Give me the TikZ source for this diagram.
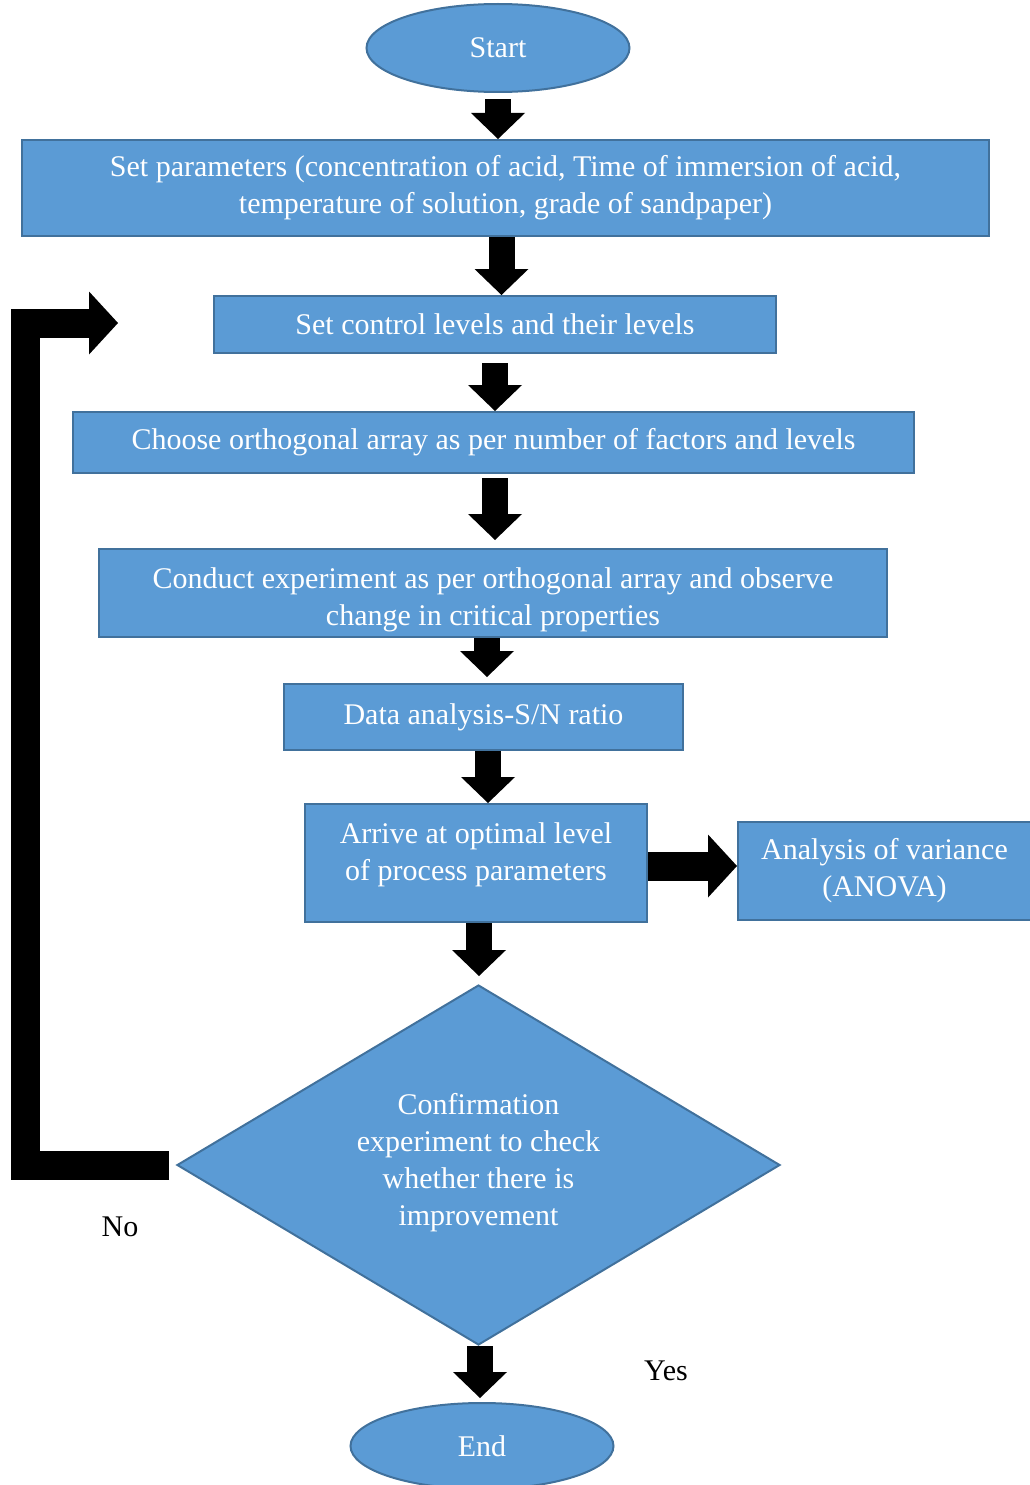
\documentclass[tikz,border=0pt]{standalone}
\usepackage{fontspec}
\setmainfont{Liberation Serif}
\usepackage{tikz}
\usetikzlibrary{arrows.meta,calc,shapes.geometric}
\definecolor{boxblue}{HTML}{5B9BD5}
\definecolor{boxedge}{HTML}{41719C}
\tikzset{
  box/.style={draw=boxedge,line width=2pt,fill=boxblue,text=white,align=center,
    inner sep=0pt,font=\fontsize{30}{37}\selectfont},
  oval/.style={box,ellipse},
  blk/.style={line width=26pt,-{Triangle[length=26pt,width=54pt,line width=0pt]}},
  blkbig/.style={line width=29pt,line join=miter,-{Triangle[length=29pt,width=63pt,line width=0pt]}},
  lbl/.style={font=\fontsize{30}{37}\selectfont}
}

\begin{document}
\begin{tikzpicture}[x=1pt,y=-1pt]
\useasboundingbox (0,0) rectangle (1029,1485);
\node[oval,minimum width=263pt,minimum height=88pt] (start) at (498,48) {Start};
\node[box,minimum width=967pt,minimum height=96pt] (setp) at (505.5,188)
  {Set parameters (concentration of acid, Time of immersion of acid,\\temperature of solution, grade of sandpaper)};
\node[box,minimum width=562pt,minimum height=57pt] (ctrl) at (495,324.5) {Set control levels and their levels};
\node[box,minimum width=841pt,minimum height=61pt] (ortho) at (493.5,442.5)
  {Choose orthogonal array as per number of factors and levels};
\node[box,minimum width=788pt,minimum height=88pt] (cond) at (493,593)
  {\raisebox{-13pt}[0pt][0pt]{\begin{tabular}{@{}c@{}}Conduct experiment as per orthogonal array and observe\\change in critical properties\end{tabular}}};
\node[box,minimum width=399pt,minimum height=66pt] (data) at (483.5,717) {Data analysis-S/N ratio};
\node[box,minimum width=342pt,minimum height=118pt] (opt) at (476,863)
  {\raisebox{2pt}[0pt][0pt]{\begin{tabular}{@{}c@{}}Arrive at optimal level\\of process parameters\end{tabular}}};
\node[box,minimum width=293pt,minimum height=98pt] (anova) at (884.5,871)
  {Analysis of variance\\(ANOVA)};
\node[box,diamond,aspect=1.675,minimum width=603pt,minimum height=360pt] (dec) at (478.5,1165)
  {\raisebox{-4pt}[0pt][0pt]{\begin{tabular}{@{}c@{}}Confirmation\\experiment to check\\whether there is\\improvement\end{tabular}}};
\node[oval,minimum width=263pt,minimum height=86pt] (fin) at (482,1446) {End};
\node[lbl] (lblno) at (120,1227) {No};
\node[lbl] (lblyes) at (666,1371) {Yes};
\coordinate (loopcorner) at (25.5,323);
\coordinate (loopend) at (118,323);

\draw[blk,shorten <=6pt] (start.south) -- (start.south |- setp.north);
\draw[blk] ([xshift=-4pt]setp.south) -- ([xshift=-4pt]setp.south |- ctrl.north);
\draw[blk,shorten <=9pt] (ctrl.south) -- (ctrl.south |- ortho.north);
\draw[blk,shorten <=4pt,shorten >=8pt] ([xshift=1.5pt]ortho.south) -- ([xshift=1.5pt]ortho.south |- cond.north);
\draw[blk,shorten >=6pt] ([xshift=-6pt]cond.south) -- ([xshift=-6pt]cond.south |- data.north);
\draw[blk] ([xshift=4.5pt]data.south) -- ([xshift=4.5pt]data.south |- opt.north);
\draw[blk,shorten >=8pt] ([xshift=3pt]opt.south) -- ([xshift=3pt]opt.south |- dec.north);
\draw[blk,shorten >=4pt] ([xshift=1.5pt]dec.south) -- ([xshift=1.5pt]dec.south |- fin.north);
\draw[blkbig] ([yshift=-3pt]opt.east) -- ([yshift=-3pt]opt.east -| anova.west);
\draw[blkbig] ([xshift=-7pt]dec.west) -| (loopcorner) -- (loopend);
\end{tikzpicture}
\end{document}
